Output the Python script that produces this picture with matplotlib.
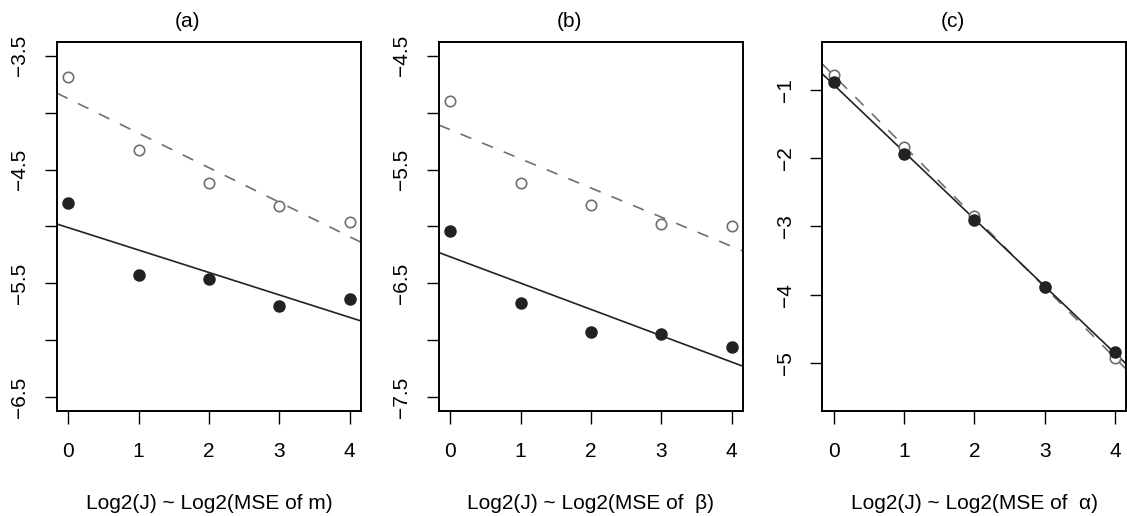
import numpy as np
import matplotlib
matplotlib.use("Agg")
import matplotlib.pyplot as plt

# ---------------------- DATA ----------------------
log2_j = [0, 1, 2, 3, 4]

# panel (a): MSE of m
a_open = [-3.69, -4.33, -4.62, -4.82, -4.96]
a_filled = [-4.79, -5.43, -5.46, -5.70, -5.64]

# panel (b): MSE of beta
b_open = [-4.90, -5.62, -5.81, -5.98, -6.00]
b_filled = [-6.04, -6.67, -6.93, -6.94, -7.06]

# panel (c): MSE of alpha
c_open = [-0.78, -1.84, -2.85, -3.88, -4.93]
c_filled = [-0.89, -1.94, -2.90, -3.89, -4.83]

titles = ["(a)", "(b)", "(c)"]
xlabels = ["Log2(J) ~ Log2(MSE of m)",
           "Log2(J) ~ Log2(MSE of  \u03b2)",
           "Log2(J) ~ Log2(MSE of  \u03b1)"]
ylims = [(-6.5, -3.5), (-7.5, -4.5), (-5.5, -0.5)]
ytick_sets = [
    [-3.5, -4.0, -4.5, -5.0, -5.5, -6.0, -6.5],
    [-4.5, -5.0, -5.5, -6.0, -6.5, -7.0, -7.5],
    [-1, -2, -3, -4, -5],
]
ytick_labels = [
    ["\u22123.5", "", "\u22124.5", "", "\u22125.5", "", "\u22126.5"],
    ["\u22124.5", "", "\u22125.5", "", "\u22126.5", "", "\u22127.5"],
    ["\u22121", "\u22122", "\u22123", "\u22124", "\u22125"],
]
open_sets = [a_open, b_open, c_open]
filled_sets = [a_filled, b_filled, c_filled]

# ---------------------- STYLE ----------------------
plt.rcParams['font.family'] = ['Liberation Sans', 'DejaVu Sans']
plt.rcParams['font.size'] = 15
grey = "#6f6f6f"
dark = "#222222"

fig = plt.figure(figsize=(11.27, 5.16), dpi=100)
lefts = [0.0506, 0.3895, 0.7297]
width = 0.2697
bottom, top = 0.2035, 0.9186

for i in range(3):
    ax = fig.add_axes([lefts[i], bottom, width, top - bottom])
    x = np.array(log2_j)
    yo = np.array(open_sets[i])
    yf = np.array(filled_sets[i])

    ax.plot(x, yo, "o", mfc="white", mec=grey, mew=1.2, ms=7.5, zorder=3)
    ax.plot(x, yf, "o", mfc=dark, mec=dark, ms=8, zorder=3)

    # least-squares fits (abline of lm)
    so, io = np.polyfit(x, yo, 1)
    sf, iff = np.polyfit(x, yf, 1)
    ax.axline((0, io), slope=so, color=grey, lw=1.2, linestyle=(0, (7, 7)), zorder=2)
    ax.axline((0, iff), slope=sf, color=dark, lw=1.2, zorder=2)

    # R-style 4% axis expansion
    lo, hi = ylims[i]
    pad_y = (hi - lo) * 0.04
    ax.set_ylim(lo - pad_y, hi + pad_y)
    ax.set_xlim(-0.16, 4.16)

    ax.set_xticks(log2_j)
    ax.set_yticks(ytick_sets[i])
    ax.set_yticklabels(ytick_labels[i], rotation=90, va="center")
    ax.tick_params(axis="both", length=9, width=1.0, color="black", labelsize=15)
    ax.tick_params(axis="x", pad=13)
    ax.tick_params(axis="y", pad=11)

    for sp in ax.spines.values():
        sp.set_linewidth(1.4)

    ax.set_title(titles[i], x=0.428, pad=11, fontsize=15)
    ax.set_xlabel(xlabels[i], fontsize=15, va="center")
    ax.xaxis.set_label_coords(0.5, -0.25)

plt.savefig("out.png", dpi=100)
plt.close()
